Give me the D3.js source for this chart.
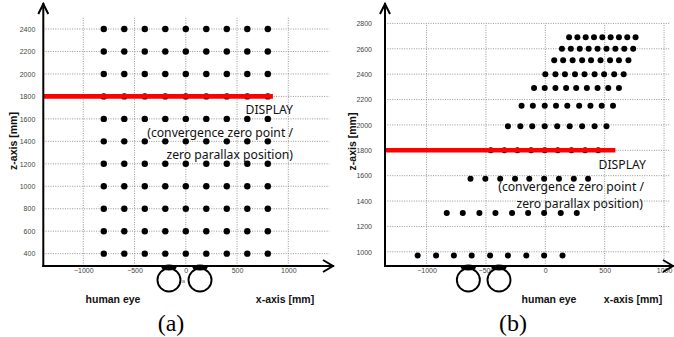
<!DOCTYPE html>
<html>
<head>
<meta charset="utf-8">
<script src="https://cdn.jsdelivr.net/npm/d3@7"></script>
<style>
  body { margin: 0; background: #fff; }
  svg { display: block; }
</style>
</head>
<body>
<svg id="chart" width="674" height="337"></svg>
<script>
// ---- panel (a): regular viewing grid ----
const aXTicks = [-1000, -500, 0, 500, 1000];
const aZTicks = [400, 600, 800, 1000, 1200, 1400, 1600, 1800, 2000, 2200, 2400];
const aPointX = [-800, -600, -400, -200, 0, 200, 400, 600, 800];
const aPointZ = [400, 600, 800, 1000, 1200, 1400, 1600, 1800, 2000, 2200, 2400];
const aDisplayZ = 1800;
const aDisplayEndX = 850;
const aEyeX = [-164, 139];
const aEyeZ = 165;

// ---- panel (b): transformed grid, one x list per depth row ----
const bXTicks = [-1000, -500, 0, 500, 1000];
const bZTicks = [1000, 1200, 1400, 1600, 1800, 2000, 2200, 2400, 2600, 2800];
const bRowZ = [2690, 2600, 2510, 2400, 2290, 2150, 1990, 1800, 1575, 1305, 970];
const bRowX = [
  [200, 270, 340, 410, 480, 550, 620, 690, 760],
  [140, 215, 290, 365, 440, 515, 590, 665, 740],
  [75, 150, 230, 310, 385, 465, 545, 620, 700],
  [0, 85, 165, 250, 330, 415, 495, 580, 660],
  [-95, -5, 85, 175, 260, 350, 440, 530, 620],
  [-200, -105, -5, 90, 185, 285, 380, 475, 570],
  [-315, -210, -110, -5, 100, 205, 310, 415, 515],
  [-460, -345, -235, -120, -5, 105, 220, 335, 445],
  [-630, -505, -380, -255, -135, -10, 115, 240, 360],
  [-830, -695, -555, -420, -280, -145, -10, 130, 265],
  [-1075, -920, -770, -620, -465, -315, -160, -10, 145]
];
const bDisplayZ = 1800;
const bDisplayEndX = 590;
const bEyeX = [-648, -390];
const bEyeZ = 778;

const displayLines = ["DISPLAY", "(convergence zero point /", "zero parallax position)"];

const svg = d3.select("#chart");

function drawPanel(cfg) {
  const g = svg.append("g");
  const x = d3.scaleLinear().domain(cfg.xDomain).range(cfg.xRange);
  const z = d3.scaleLinear().domain(cfg.zDomain).range(cfg.zRange);
  const [x0, x1] = cfg.xRange;
  const [zBottom, zTop] = cfg.zRange;

  // dotted grid
  const grid = g.append("g")
    .attr("stroke", "#8a8a8a").attr("stroke-width", 0.9)
    .attr("stroke-dasharray", "1,1.4").attr("fill", "none");
  grid.selectAll("line.h").data(cfg.zTicks).join("line").attr("class", "h")
    .attr("x1", x0).attr("x2", x1)
    .attr("y1", d => z(d)).attr("y2", d => z(d));
  grid.selectAll("line.v").data(cfg.xTicks).join("line").attr("class", "v")
    .attr("x1", d => x(d)).attr("x2", d => x(d))
    .attr("y1", zBottom).attr("y2", zTop);

  // tick labels from d3 axes
  const yAxis = g.append("g").attr("transform", `translate(${x0},0)`)
    .call(d3.axisLeft(z).tickValues(cfg.zTicks).tickSize(0).tickPadding(cfg.zPad).tickFormat(d3.format("d")));
  const xAxis = g.append("g").attr("transform", `translate(0,${zBottom})`)
    .call(d3.axisBottom(x).tickValues(cfg.xTicks).tickSize(0).tickPadding(2).tickFormat(d3.format("d")));
  [yAxis, xAxis].forEach(a => {
    a.select(".domain").remove();
    a.selectAll("text").attr("font-family", "'Liberation Sans', Arial, sans-serif")
      .attr("font-size", 7).attr("fill", "#444");
  });

  // points
  g.append("g").selectAll("circle").data(cfg.points).join("circle")
    .attr("cx", d => x(d[0])).attr("cy", d => z(d[1])).attr("r", cfg.r).attr("fill", "#000");

  // display plane
  g.append("line")
    .attr("x1", x0).attr("x2", x(cfg.displayEnd))
    .attr("y1", z(cfg.displayZ)).attr("y2", z(cfg.displayZ))
    .attr("stroke", "#ff0000").attr("stroke-width", 4.6);

  // display annotation
  const note = g.append("g").attr("font-family", "'Noto Sans', 'Open Sans', sans-serif")
    .attr("font-size", 12.2).attr("fill", "#111").attr("text-anchor", "end");
  displayLines.forEach((t, i) => {
    note.append("text").attr("x", cfg.noteX[i]).attr("y", cfg.noteY[i]).text(t);
  });

  // eyes
  const eyes = g.append("g");
  cfg.eyeX.forEach(ex => {
    const cx = x(ex), cy = z(cfg.eyeZ);
    eyes.append("circle").attr("cx", cx).attr("cy", cy).attr("r", 11.5)
      .attr("fill", "#fff").attr("stroke", "#000").attr("stroke-width", 1.9);
    eyes.append("ellipse").attr("cx", cx).attr("cy", zBottom + 1.5)
      .attr("rx", 7.5).attr("ry", 3).attr("fill", "#000");
  });

  // axes with arrow heads
  const ax = g.append("g").attr("stroke", "#000").attr("stroke-width", 2).attr("fill", "none")
    .attr("stroke-linecap", "square");
  ax.append("line").attr("x1", x0).attr("x2", x0).attr("y1", zBottom).attr("y2", cfg.arrowTop);
  ax.append("path").attr("d", `M${x0 - 5},${cfg.arrowTop + 10} L${x0},${cfg.arrowTop} L${x0 + 5},${cfg.arrowTop + 10}`)
    .attr("stroke-linecap", "butt");
  ax.append("line").attr("x1", x0).attr("x2", cfg.arrowRight).attr("y1", zBottom).attr("y2", zBottom);
  ax.append("path").attr("d", `M${cfg.arrowRight - 10},${zBottom - 6} L${cfg.arrowRight},${zBottom} L${cfg.arrowRight - 10},${zBottom + 6}`)
    .attr("stroke-linecap", "butt");

  // axis titles
  const bold = "'Liberation Sans', Arial, sans-serif";
  g.append("text").attr("transform", `translate(${cfg.zTitle[0]},${cfg.zTitle[1]}) rotate(-90)`)
    .attr("text-anchor", "middle").attr("dominant-baseline", "central")
    .attr("font-family", bold).attr("font-weight", "bold").attr("font-size", 10.5).attr("fill", "#111")
    .text("z-axis [mm]");
  g.append("text").attr("x", cfg.xTitle[0]).attr("y", cfg.xTitle[1])
    .attr("text-anchor", "middle").attr("font-family", bold).attr("font-weight", "bold")
    .attr("font-size", 10.5).attr("fill", "#111").text("x-axis [mm]");
  g.append("text").attr("x", cfg.eyeTitle[0]).attr("y", cfg.eyeTitle[1])
    .attr("text-anchor", "middle").attr("font-family", bold).attr("font-weight", "bold")
    .attr("font-size", 10.5).attr("fill", "#111").text("human eye");
  g.append("text").attr("x", cfg.caption[0]).attr("y", cfg.caption[1])
    .attr("text-anchor", "middle").attr("font-family", "'Liberation Serif', 'Times New Roman', serif")
    .attr("font-size", 24).attr("fill", "#000").text(cfg.captionText);

  return { x, z, g };
}

const pa = drawPanel({
  xDomain: [-1390, 1400], xRange: [43.3, 329.3],
  zDomain: [290, 2500], zRange: [266, 17.8],
  xTicks: aXTicks, zTicks: aZTicks, zPad: 8,
  points: aPointZ.flatMap(zz => aPointX.map(xx => [xx, zz])), r: 3.2,
  displayZ: aDisplayZ, displayEnd: aDisplayEndX,
  noteX: [293, 293, 293], noteY: [113.5, 136.5, 158.5],
  eyeX: aEyeX, eyeZ: aEyeZ,
  arrowTop: 4, arrowRight: 333,
  zTitle: [13, 141], xTitle: [285, 303], eyeTitle: [113, 303],
  caption: [171, 331], captionText: "(a)"
});
// small mark between the eyes
pa.g.append("text").attr("x", 183.5).attr("y", 283).attr("text-anchor", "middle")
  .attr("font-family", "'Liberation Sans', Arial, sans-serif").attr("font-size", 6).attr("fill", "#777").text("a");

drawPanel({
  xDomain: [-1350, 1050], xRange: [385, 670],
  zDomain: [888, 2800], zRange: [266, 23.4],
  xTicks: bXTicks, zTicks: bZTicks, zPad: 13,
  points: bRowZ.flatMap((zz, i) => bRowX[i].map(xx => [xx, zz])), r: 3,
  displayZ: bDisplayZ, displayEnd: bDisplayEndX,
  noteX: [646, 644, 643], noteY: [168.5, 191, 207.5],
  eyeX: bEyeX, eyeZ: bEyeZ,
  arrowTop: 4, arrowRight: 673,
  zTitle: [352, 141.5], xTitle: [633, 303], eyeTitle: [549, 303],
  caption: [513, 331], captionText: "(b)"
});
</script>
</body>
</html>
